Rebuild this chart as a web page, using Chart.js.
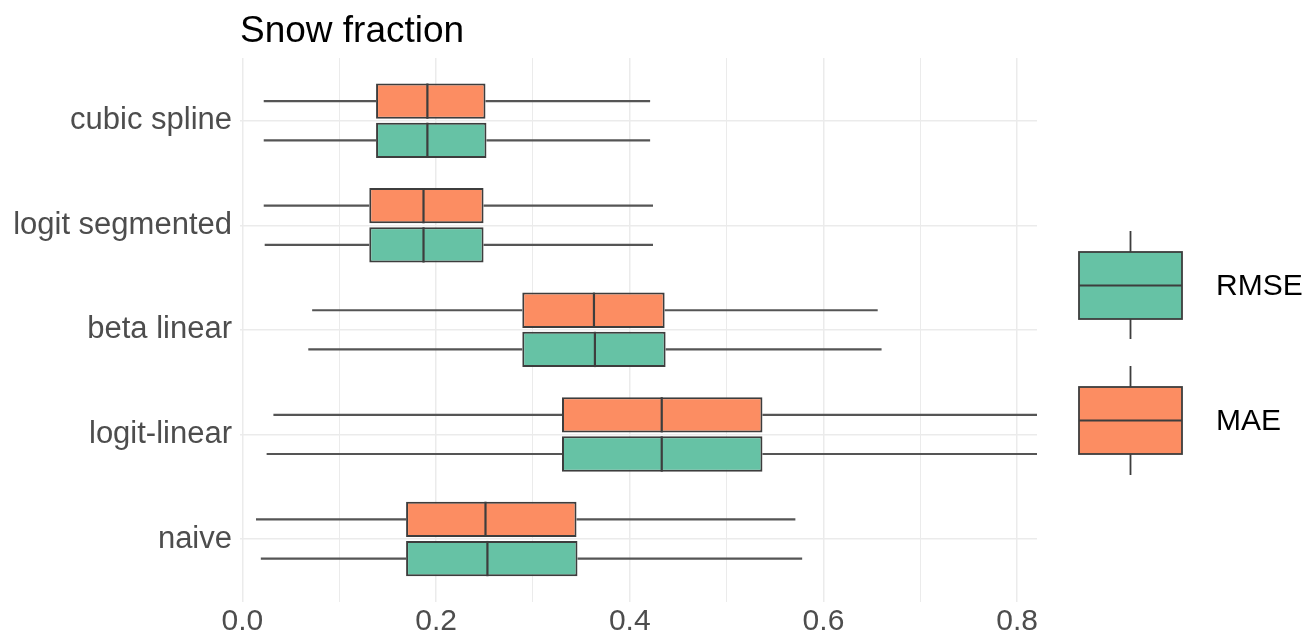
<!DOCTYPE html>
<html>
<head>
<meta charset="utf-8">
<script src="https://cdn.jsdelivr.net/npm/chart.js@4/dist/chart.umd.min.js"></script>
<style>
  html, body { margin: 0; padding: 0; background: #fff; }
  #wrap { width: 1305px; height: 638px; position: relative; }
</style>
</head>
<body>
<div id="wrap"><canvas id="snowChart"></canvas></div>
<script>
// ─── Data ──────────────────────────────────────────────
var categories = ['cubic spline', 'logit segmented', 'beta linear', 'logit-linear', 'naive'];

var maeMin  = [0.022, 0.022, 0.072, 0.032, 0.014];
var maeQ1   = [0.138, 0.131, 0.289, 0.330, 0.169];
var maeMed  = [0.191, 0.187, 0.363, 0.433, 0.251];
var maeQ3   = [0.251, 0.249, 0.436, 0.537, 0.345];
var maeMax  = [0.421, 0.424, 0.656, 0.860, 0.571];

var rmseMin = [0.022, 0.023, 0.068, 0.025, 0.019];
var rmseQ1  = [0.138, 0.131, 0.289, 0.330, 0.169];
var rmseMed = [0.191, 0.187, 0.364, 0.433, 0.253];
var rmseQ3  = [0.252, 0.249, 0.437, 0.537, 0.346];
var rmseMax = [0.421, 0.424, 0.660, 0.860, 0.578];

var xTickValues = [0, 0.1, 0.2, 0.3, 0.4, 0.5, 0.6, 0.7, 0.8];
var xTickLabels = ['0.0', '', '0.2', '', '0.4', '', '0.6', '', '0.8'];

var colMAE  = '#FC8D62';
var colRMSE = '#66C2A5';
var lineCol = '#3d3d3d';
var gridCol = '#ebebeb';
var font    = '"Liberation Sans", Arial, Helvetica, sans-serif';

function boxData(q1, q3) {
    return categories.map(function(c, i) { return { x: [q1[i], q3[i]], y: i }; });
}

var stats = [
    { min: maeMin,  med: maeMed,  max: maeMax,  q1: maeQ1,  q3: maeQ3 },
    { min: rmseMin, med: rmseMed, max: rmseMax, q1: rmseQ1, q3: rmseQ3 }
];

// ─── Box plot extras: whiskers, medians, title, legend ─
var boxPlugin = {
    id: 'boxExtras',
    beforeDatasetsDraw: function(chart) {
        var ctx = chart.ctx, xs = chart.scales.x, area = chart.chartArea;
        ctx.save();
        ctx.beginPath();
        ctx.rect(area.left, area.top, area.right - area.left, area.bottom - area.top);
        ctx.clip();
        ctx.strokeStyle = '#555555';
        ctx.lineWidth = 2.2;
        stats.forEach(function(s, di) {
            chart.getDatasetMeta(di).data.forEach(function(bar, i) {
                ctx.beginPath();
                ctx.moveTo(xs.getPixelForValue(s.min[i]), bar.y);
                ctx.lineTo(xs.getPixelForValue(s.q1[i]), bar.y);
                ctx.moveTo(xs.getPixelForValue(s.q3[i]), bar.y);
                ctx.lineTo(xs.getPixelForValue(s.max[i]), bar.y);
                ctx.stroke();
            });
        });
        ctx.restore();
    },
    afterDatasetsDraw: function(chart) {
        var ctx = chart.ctx, xs = chart.scales.x;
        ctx.save();
        ctx.strokeStyle = lineCol;
        ctx.lineWidth = 2.2;
        stats.forEach(function(s, di) {
            chart.getDatasetMeta(di).data.forEach(function(bar, i) {
                var px = xs.getPixelForValue(s.med[i]);
                ctx.beginPath();
                ctx.moveTo(px, bar.y - bar.height / 2);
                ctx.lineTo(px, bar.y + bar.height / 2);
                ctx.stroke();
            });
        });

        // title
        ctx.fillStyle = '#000';
        ctx.font = '37px ' + font;
        ctx.textAlign = 'left';
        ctx.textBaseline = 'alphabetic';
        ctx.fillText('Snow fraction', 240, 42);

        // legend (RMSE first, as in the reference)
        var keys = [
            { label: 'RMSE', fill: colRMSE, top: 252, bottom: 319, wTop: 231, wBot: 339 },
            { label: 'MAE',  fill: colMAE,  top: 387, bottom: 454, wTop: 366, wBot: 475 }
        ];
        var kx = 1079, kw = 103, cx = kx + kw / 2;
        keys.forEach(function(k) {
            var mid = (k.top + k.bottom) / 2;
            ctx.strokeStyle = lineCol;
            ctx.lineWidth = 1.8;
            ctx.beginPath();
            ctx.moveTo(cx, k.wTop); ctx.lineTo(cx, k.top);
            ctx.moveTo(cx, k.bottom); ctx.lineTo(cx, k.wBot);
            ctx.stroke();
            ctx.fillStyle = k.fill;
            ctx.fillRect(kx, k.top, kw, k.bottom - k.top);
            ctx.strokeRect(kx, k.top, kw, k.bottom - k.top);
            ctx.beginPath();
            ctx.moveTo(kx, mid); ctx.lineTo(kx + kw, mid);
            ctx.stroke();
            ctx.fillStyle = '#000';
            ctx.font = '30px ' + font;
            ctx.textBaseline = 'middle';
            ctx.fillText(k.label, 1216, mid + 1);
        });
        ctx.restore();
    }
};

var chart = new Chart(document.getElementById('snowChart').getContext('2d'), {
    type: 'bar',
    data: {
        datasets: [
            { label: 'MAE',  data: boxData(maeQ1, maeQ3),   backgroundColor: colMAE,
              borderColor: lineCol, borderWidth: 2, borderSkipped: false },
            { label: 'RMSE', data: boxData(rmseQ1, rmseQ3), backgroundColor: colRMSE,
              borderColor: lineCol, borderWidth: 2, borderSkipped: false }
        ]
    },
    options: {
        indexAxis: 'y',
        responsive: true,
        maintainAspectRatio: false,
        animation: false,
        categoryPercentage: 0.75,
        barPercentage: 0.9,
        layout: { padding: { top: 58, right: 268, bottom: 0, left: 0 } },
        plugins: {
            legend: { display: false },
            tooltip: { enabled: false },
            title: { display: false }
        },
        scales: {
            x: {
                type: 'linear',
                min: -0.0025, max: 0.8205,
                offset: false,
                afterBuildTicks: function(s) { s.ticks = xTickValues.map(function(v) { return { value: v }; }); },
                afterFit: function(s) { s.height = 36.3; },
                border: { display: false },
                grid: {
                    color: gridCol,
                    drawTicks: false,
                    offset: false,
                    lineWidth: function(c) { return c.index % 2 === 0 ? 1.5 : 1; }
                },
                ticks: {
                    padding: 2,
                    color: '#4d4d4d',
                    font: { family: font, size: 30 },
                    callback: function(v, i) { return xTickLabels[i]; }
                }
            },
            y: {
                type: 'linear',
                reverse: true,
                offset: false,
                min: -0.6, max: 4.6,
                afterBuildTicks: function(s) { s.ticks = categories.map(function(c, i) { return { value: i }; }); },
                afterFit: function(s) { s.width = 240; },
                border: { display: false },
                grid: { color: gridCol, drawTicks: false, offset: false, lineWidth: 1.5 },
                ticks: {
                    padding: 8,
                    color: '#4d4d4d',
                    font: { family: font, size: 31 },
                    callback: function(v, i) { return categories[i]; }
                }
            }
        }
    },
    plugins: [boxPlugin]
});
</script>
</body>
</html>
